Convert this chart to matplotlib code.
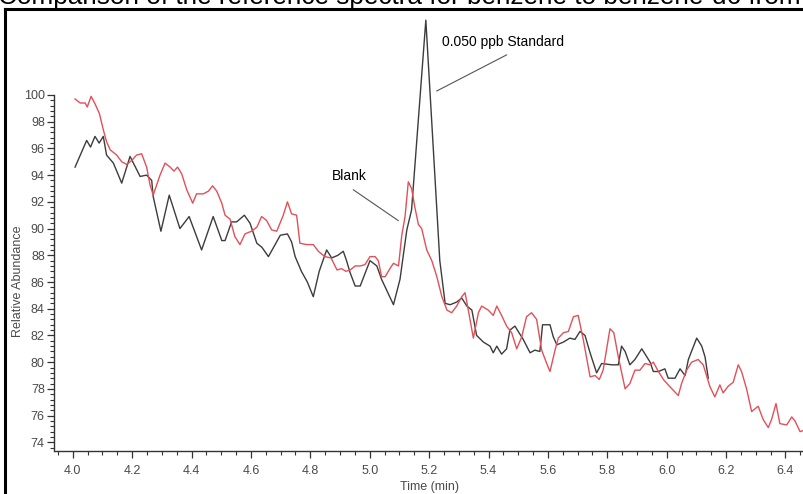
# plot.py
# Benzene blank vs 0.050 ppb standard, extracted ion trace

import matplotlib
matplotlib.use("Agg")
import matplotlib.pyplot as plt
import numpy as np
from matplotlib import ticker
from matplotlib.lines import Line2D

# 0.050 ppb standard (black)
std_time = [
    4.008, 4.047, 4.060, 4.075, 4.089, 4.103, 4.114, 4.137, 4.165, 4.193,
    4.227, 4.249, 4.266, 4.271, 4.297, 4.325, 4.361, 4.392, 4.434, 4.473,
    4.502, 4.513, 4.535, 4.552, 4.578, 4.597, 4.620, 4.637, 4.659, 4.699,
    4.723, 4.737, 4.749, 4.770, 4.790, 4.810, 4.830, 4.855, 4.872, 4.893,
    4.911, 4.922, 4.934, 4.951, 4.968, 5.001, 5.024, 5.040, 5.080, 5.102,
    5.125, 5.141, 5.189, 5.236, 5.254, 5.271, 5.293, 5.310, 5.327, 5.344,
    5.360, 5.383, 5.405, 5.416, 5.428, 5.444, 5.461, 5.472, 5.489, 5.500,
    5.517, 5.540, 5.556, 5.573, 5.582, 5.607, 5.618, 5.630, 5.652, 5.674,
    5.691, 5.708, 5.725, 5.742, 5.764, 5.781, 5.815, 5.837, 5.848, 5.860,
    5.876, 5.893, 5.916, 5.933, 5.944, 5.955, 5.972, 5.994, 6.005, 6.028,
    6.045, 6.062, 6.073, 6.101, 6.118, 6.129, 6.140,
]
std_abund = [
    94.6, 96.6, 96.1, 96.9, 96.4, 96.9, 95.5, 94.9, 93.4, 95.4,
    93.9, 94.0, 93.6, 92.4, 89.8, 92.5, 90.0, 90.9, 88.4, 90.9,
    89.1, 89.1, 90.5, 90.5, 91.0, 90.4, 88.9, 88.6, 87.9, 89.5,
    89.6, 89.0, 87.9, 86.8, 86.0, 84.9, 86.8, 88.4, 87.8, 88.0,
    88.3, 87.6, 86.7, 85.7, 85.7, 87.6, 87.2, 86.2, 84.3, 86.2,
    89.9, 91.4, 105.6, 87.6, 84.4, 84.3, 84.5, 84.8, 84.2, 83.9,
    82.0, 81.5, 81.2, 80.7, 81.2, 80.6, 81.0, 82.4, 82.7, 82.3,
    81.7, 80.7, 80.9, 80.8, 82.8, 82.8, 81.9, 81.3, 81.5, 81.8,
    81.7, 82.3, 82.0, 80.7, 79.2, 79.9, 79.8, 79.8, 81.2, 80.8,
    79.8, 80.2, 81.0, 80.4, 80.0, 79.3, 79.3, 79.5, 78.8, 78.8,
    79.5, 79.0, 80.2, 81.8, 81.2, 80.4, 78.8,
]

# Blank (red)
blank_time = [
    4.008, 4.025, 4.042, 4.049, 4.062, 4.076, 4.090, 4.103, 4.114, 4.126,
    4.148, 4.165, 4.182, 4.199, 4.215, 4.232, 4.249, 4.260, 4.271, 4.294,
    4.311, 4.328, 4.341, 4.353, 4.367, 4.384, 4.404, 4.417, 4.440, 4.457,
    4.471, 4.485, 4.502, 4.513, 4.530, 4.546, 4.563, 4.580, 4.602, 4.620,
    4.636, 4.653, 4.670, 4.687, 4.709, 4.723, 4.737, 4.754, 4.765, 4.788,
    4.810, 4.827, 4.849, 4.870, 4.890, 4.905, 4.920, 4.934, 4.951, 4.968,
    4.984, 5.001, 5.018, 5.029, 5.040, 5.052, 5.068, 5.080, 5.097, 5.108,
    5.119, 5.130, 5.141, 5.152, 5.164, 5.175, 5.192, 5.209, 5.226, 5.243,
    5.260, 5.276, 5.293, 5.310, 5.321, 5.332, 5.349, 5.366, 5.377, 5.399,
    5.416, 5.428, 5.444, 5.461, 5.478, 5.495, 5.512, 5.528, 5.545, 5.562,
    5.579, 5.596, 5.607, 5.624, 5.635, 5.652, 5.669, 5.686, 5.702, 5.719,
    5.742, 5.759, 5.773, 5.786, 5.809, 5.822, 5.837, 5.860, 5.876, 5.893,
    5.910, 5.927, 5.944, 5.955, 5.972, 5.989, 6.005, 6.022, 6.039, 6.050,
    6.067, 6.084, 6.106, 6.123, 6.134, 6.145, 6.162, 6.179, 6.190, 6.207,
    6.224, 6.241, 6.252, 6.269, 6.286, 6.308, 6.325, 6.342, 6.353, 6.368,
    6.381, 6.404, 6.421, 6.432, 6.449, 6.462,
]
blank_abund = [
    99.7, 99.4, 99.4, 99.1, 99.9, 99.3, 98.6, 97.4, 96.5, 95.9,
    95.5, 95.0, 94.8, 95.1, 95.5, 95.6, 94.6, 93.3, 92.5, 94.0,
    94.9, 94.6, 94.3, 94.6, 94.1, 92.9, 91.9, 92.6, 92.6, 92.8,
    93.2, 92.8, 91.9, 91.0, 90.7, 89.4, 88.8, 89.6, 89.8, 90.1,
    90.9, 90.6, 89.9, 89.8, 91.0, 92.0, 91.1, 91.0, 88.9, 88.8,
    88.8, 88.3, 87.9, 87.8, 86.9, 87.0, 86.8, 86.9, 87.2, 87.2,
    87.3, 87.9, 87.9, 87.6, 86.4, 86.4, 87.0, 87.4, 87.2, 89.5,
    90.9, 93.5, 93.0, 91.6, 90.3, 90.0, 88.4, 87.6, 86.4, 84.9,
    83.9, 83.7, 84.2, 84.9, 85.2, 83.9, 81.8, 83.7, 84.2, 83.9,
    83.5, 84.2, 83.5, 82.7, 82.2, 81.0, 81.9, 83.4, 83.7, 83.2,
    80.9, 79.9, 79.3, 80.9, 81.8, 82.2, 82.3, 83.4, 83.5, 81.7,
    78.9, 79.0, 78.7, 79.4, 82.5, 82.2, 80.4, 78.0, 78.4, 79.4,
    79.4, 79.9, 79.8, 80.0, 79.3, 78.7, 78.3, 77.9, 77.5, 78.4,
    79.4, 80.0, 80.2, 79.8, 79.0, 78.2, 77.4, 78.3, 77.7, 78.2,
    78.5, 79.8, 79.3, 78.0, 76.3, 76.7, 75.7, 75.1, 75.7, 76.9,
    75.4, 75.3, 75.9, 75.6, 74.8, 74.9,
]

x_ticks = [4.0, 4.2, 4.4, 4.6, 4.8, 5.0, 5.2, 5.4, 5.6, 5.8, 6.0, 6.2, 6.4]
y_ticks = list(range(74, 101, 2))

W, H = 804, 494
label_color = "#4a4a4a"


def px_box(left, top, right, bottom):
    """Axes rectangle from pixel edges"""
    return [left / W, 1 - bottom / H, (right - left) / W, (bottom - top) / H]


def main():
    plt.rcParams["font.family"] = ["Liberation Sans", "DejaVu Sans"]

    fig = plt.figure(figsize=(W / 100, H / 100), dpi=100)
    ax = fig.add_axes(px_box(54.5, 10, 804, 451))

    ax.plot(std_time, std_abund, color="#3c3c3c", lw=1.0)
    ax.plot(blank_time, blank_abund, color="#e2505a", lw=1.0)

    ax.set_xlim(3.9387, 6.4623)
    ax.set_ylim(73.35, 106.36)

    for side in ("top", "right"):
        ax.spines[side].set_visible(False)
    ax.spines["left"].set_bounds(73.35, 100)
    for side in ("left", "bottom"):
        ax.spines[side].set_color("#333333")
        ax.spines[side].set_linewidth(1.0)

    ax.set_xticks(x_ticks)
    ax.set_yticks(y_ticks)
    ax.xaxis.set_major_formatter(ticker.FormatStrFormatter("%.1f"))
    ax.xaxis.set_minor_locator(ticker.MultipleLocator(0.05))
    # minor y ticks stop where the left spine stops (at 100)
    ax.yaxis.set_minor_locator(ticker.FixedLocator(np.arange(73.6, 100.01, 0.4)))
    ax.tick_params(which="major", length=5, width=0.9, color="#333333",
                   labelsize=9, labelcolor=label_color)
    ax.tick_params(axis="x", which="major", pad=5)
    ax.tick_params(axis="y", which="major", pad=2)
    ax.tick_params(which="minor", length=3, width=0.8, color="#333333")

    ax.set_xlabel("Time (min)", fontsize=9, color=label_color, labelpad=3)
    ax.set_ylabel("Relative Abundance", fontsize=9, color=label_color)
    ax.yaxis.set_label_coords(-0.041, 0.385)

    # peak labels with leader lines
    ax.text(5.242, 103.99, "0.050 ppb Standard", fontsize=10, va="center")
    ax.plot([5.461, 5.226], [103.0, 100.3], color="#555555", lw=0.8)
    ax.text(4.872, 93.9, "Blank", fontsize=10, va="center")
    ax.plot([4.945, 5.096], [92.9, 90.6], color="#555555", lw=0.8)

    # cropped frame and caption from the source page
    fig.add_artist(Line2D([5 / W, 5 / W], [0, 1 - 9 / H], color="black", lw=2.2))
    fig.add_artist(Line2D([5 / W, 1], [1 - 9 / H, 1 - 9 / H], color="black", lw=2.2))
    fig.text(-2 / W, 1 - 4 / H,
             "Comparison of the reference spectra for benzene to benzene-d6 from",
             fontsize=18.8, va="baseline", ha="left")

    fig.savefig("out.png", dpi=100)


if __name__ == "__main__":
    main()
